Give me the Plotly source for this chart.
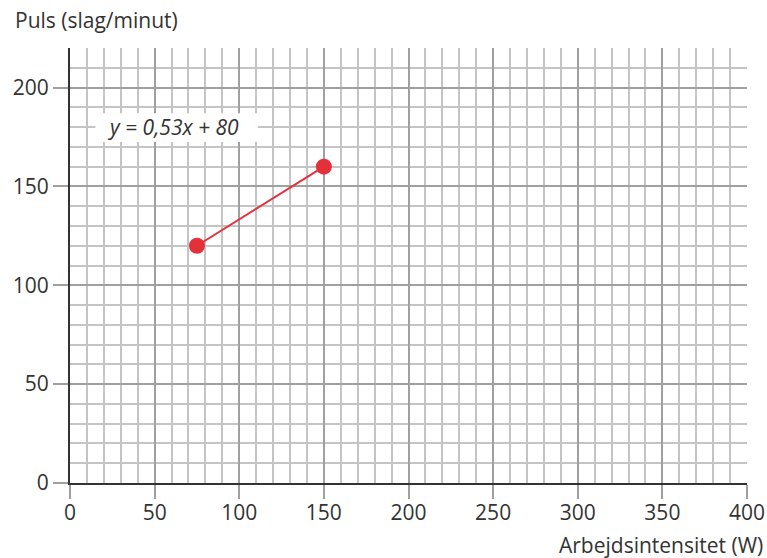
import plotly.graph_objects as go

# Data
x_vals = [75, 150]
y_vals = [120, 160]
equation_label = "y = 0,53x + 80"
x_title = "Arbejdsintensitet (W)"
y_title = "Puls (slag/minut)"
x_ticks = [0, 50, 100, 150, 200, 250, 300, 350, 400]
y_ticks = [0, 50, 100, 150, 200]

FONT = "Open Sans"
TXT = "#333333"
RED = "#e3313a"

fig = go.Figure()
fig.add_trace(go.Scatter(
    x=x_vals, y=y_vals, mode="lines+markers",
    line=dict(color=RED, width=2),
    marker=dict(color=RED, size=16),
    hoverinfo="skip", showlegend=False,
))

fig.add_shape(type="rect", xref="x", yref="y", x0=15, x1=111, y0=172.5, y1=187,
              fillcolor="white", line=dict(width=0), layer="above")
fig.add_annotation(x=61, y=179.8, xref="x", yref="y", text="<i>" + equation_label + "</i>",
                   showarrow=False, font=dict(family=FONT, size=21, color=TXT))

fig.add_annotation(x=0, y=1, xref="paper", yref="paper", text=y_title, showarrow=False,
                   xanchor="left", yanchor="middle", font=dict(family=FONT, size=21, color=TXT),
                   xshift=-57, yshift=28)
fig.add_annotation(x=1, y=0, xref="paper", yref="paper", text=x_title, showarrow=False,
                   xanchor="right", yanchor="middle", font=dict(family=FONT, size=21, color=TXT),
                   xshift=18, yshift=-62)

common = dict(
    showgrid=True, gridcolor="#a0a0a0", gridwidth=2,
    ticks="outside", tickwidth=2, tickcolor="#a0a0a0",
    showline=True, linecolor="#333333", linewidth=2,
    zeroline=False, automargin=False,
    tickfont=dict(family=FONT, size=21, color=TXT),
    minor=dict(dtick=10, tick0=0, showgrid=True, gridcolor="#c4c4c4", gridwidth=1.5, ticks=""),
    fixedrange=True,
)
fig.update_xaxes(range=[0, 400], tickvals=x_ticks, ticktext=[str(v) for v in x_ticks],
                 ticklen=14, ticklabelstandoff=-4, **common)
fig.update_yaxes(range=[0, 220], tickvals=y_ticks, ticktext=[str(v) for v in y_ticks],
                 ticklen=15, **common)

fig.update_layout(
    width=767, height=558,
    margin=dict(l=70, r=20, t=48, b=75),
    paper_bgcolor="white", plot_bgcolor="white",
    font=dict(family=FONT, color=TXT),
)

fig.write_html(
    "out.html",
    config={"displayModeBar": False},
    post_script="document.body.style.margin='0';document.body.style.overflow='hidden';"
                "document.documentElement.style.overflow='hidden';",
)
